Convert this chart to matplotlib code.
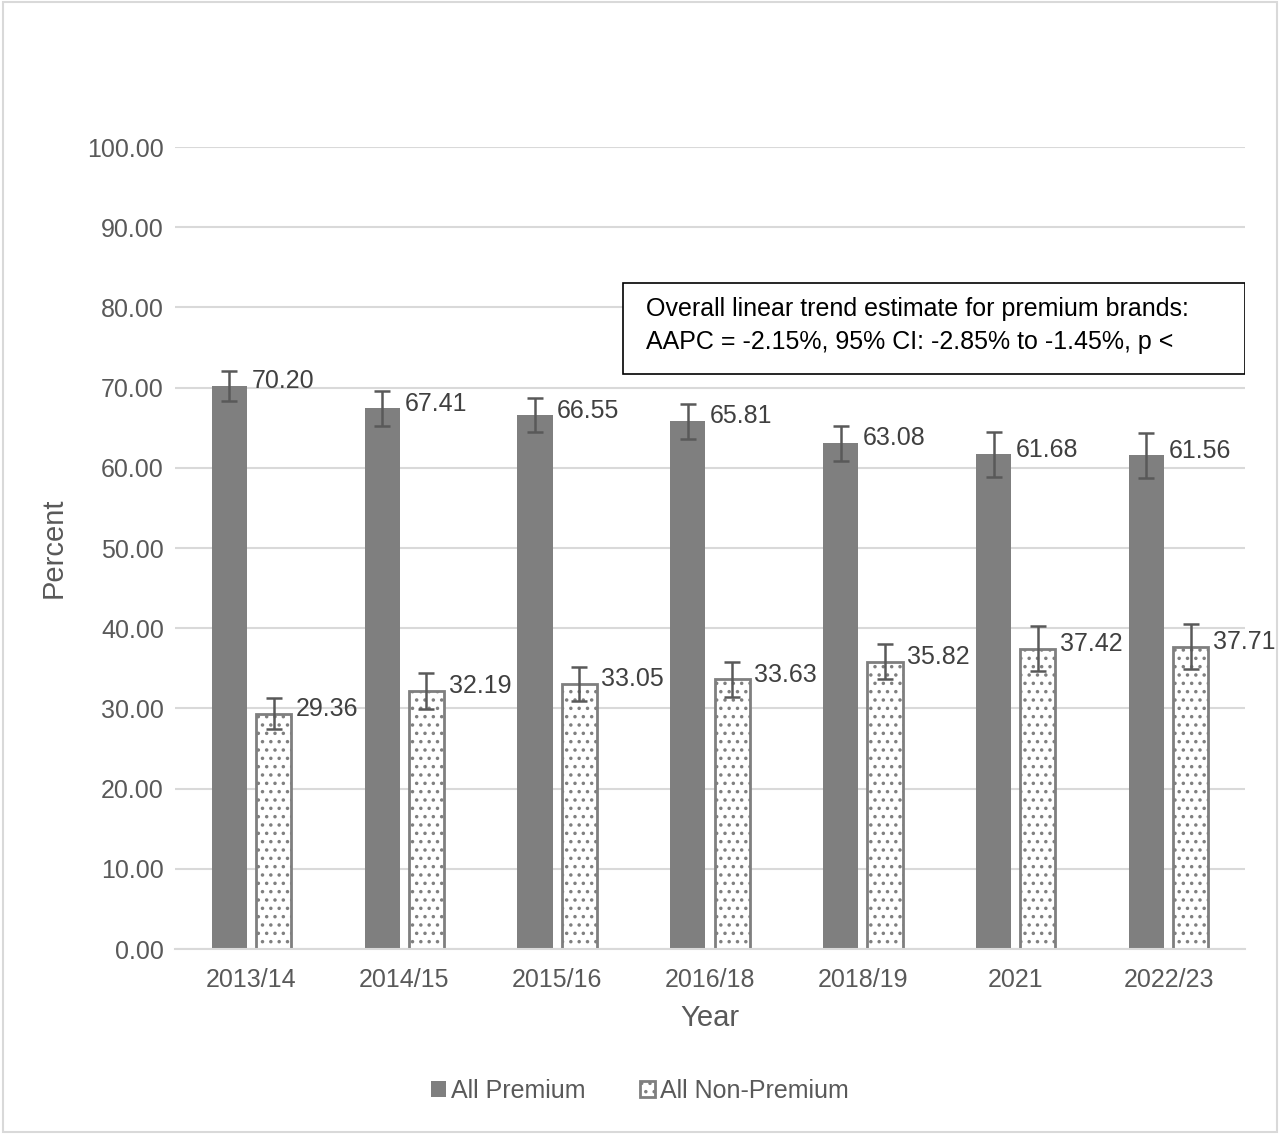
import numpy as np
import matplotlib.pyplot as plt
from matplotlib.patches import Rectangle

plt.rcParams["font.family"] = ["Liberation Sans", "DejaVu Sans"]
plt.rcParams["hatch.linewidth"] = 1.3

years = ["2013/14", "2014/15", "2015/16", "2016/18", "2018/19", "2021", "2022/23"]
premium = [70.20, 67.41, 66.55, 65.81, 63.08, 61.68, 61.56]
non_premium = [29.36, 32.19, 33.05, 33.63, 35.82, 37.42, 37.71]
premium_err = [1.9, 2.2, 2.1, 2.2, 2.2, 2.8, 2.8]
non_premium_err = [1.9, 2.2, 2.1, 2.2, 2.2, 2.8, 2.8]

fig = plt.figure(figsize=(12.8, 11.34), dpi=100)
ax = fig.add_axes([0.1367, 0.1631, 0.836, 0.7072])

x = np.arange(len(years))
width = 0.23
offset = 0.145
err_style = dict(ecolor="#595959", elinewidth=1.8, capsize=6, capthick=1.8)

ax.bar(x - offset, premium, width, color="#7f7f7f", label="All Premium",
       yerr=premium_err, error_kw=err_style, zorder=2)
ax.bar(x + offset, non_premium, width, color="white", edgecolor="#7f7f7f",
       linewidth=2, hatch="..", label="All Non-Premium",
       yerr=non_premium_err, error_kw=err_style, zorder=2)

# value labels sit just right of each bar
for i in range(len(years)):
    ax.text(x[i] - offset + width / 2 + 0.03, premium[i] + 0.6, f"{premium[i]:.2f}",
            va="center", ha="left", fontsize=18, color="#404040", zorder=3)
    ax.text(x[i] + offset + width / 2 + 0.03, non_premium[i] + 0.6, f"{non_premium[i]:.2f}",
            va="center", ha="left", fontsize=18, color="#404040", zorder=3)

ax.set_xlim(-0.5, len(years) - 0.5)
ax.set_ylim(0, 100)
ax.set_yticks(np.arange(0, 101, 10))
ax.set_yticklabels([f"{v:.2f}" for v in np.arange(0, 101, 10)])
ax.set_xticks(x)
ax.set_xticklabels(years)
ax.tick_params(length=0, labelsize=18, labelcolor="#595959")
ax.tick_params(axis="y", pad=8)
ax.tick_params(axis="x", pad=14)
ax.grid(axis="y", color="#d9d9d9", linewidth=1.5, zorder=0)
ax.set_axisbelow(True)
for side in ["top", "right", "left"]:
    ax.spines[side].set_visible(False)
ax.spines["bottom"].set_color("#d9d9d9")
ax.spines["bottom"].set_linewidth(1.5)

ax.set_ylabel("Percent", fontsize=21, color="#595959", labelpad=14)
ax.set_xlabel("Year", fontsize=21, color="#595959", labelpad=8)

box = Rectangle((0.4187, 0.717), 0.5813, 0.1133, transform=ax.transAxes,
                facecolor="white", edgecolor="black", linewidth=1.2, zorder=4)
ax.add_patch(box)
ax.text(0.440, 0.798, "Overall linear trend estimate for premium brands:",
        transform=ax.transAxes, fontsize=18, color="black", va="center", zorder=5)
ax.text(0.440, 0.757, "AAPC = -2.15%, 95% CI: -2.85% to -1.45%, p <",
        transform=ax.transAxes, fontsize=18, color="black", va="center", zorder=5)

fig.legend(loc="center", bbox_to_anchor=(0.5, 0.038), ncol=2, frameon=False,
           fontsize=18, labelcolor="#595959", handlelength=0.6, handleheight=0.6,
           handletextpad=0.2, columnspacing=2.2)

fig.patches.append(Rectangle((0.002, 0.002), 0.996, 0.996, transform=fig.transFigure,
                             fill=False, edgecolor="#d9d9d9", linewidth=1.5))

fig.savefig("out.png", dpi=100)
